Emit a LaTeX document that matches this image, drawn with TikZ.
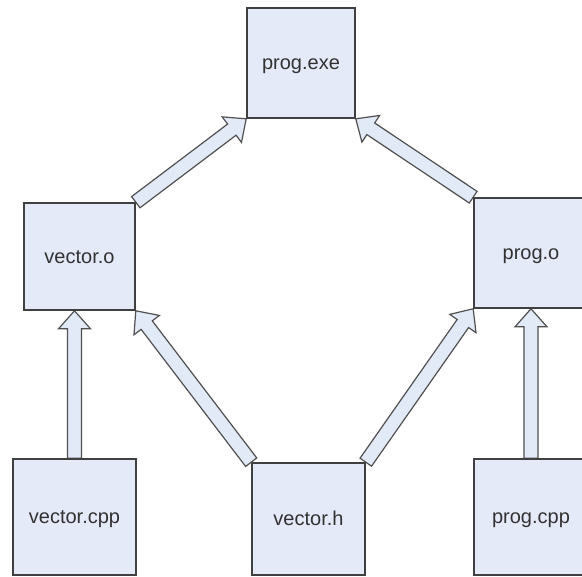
\documentclass[tikz,border=0pt]{standalone}
\usepackage{fontspec}
\setmainfont{Liberation Sans}
\usetikzlibrary{calc,backgrounds}
\definecolor{boxfill}{RGB}{229,234,248}
\definecolor{boxline}{RGB}{64,64,64}
\definecolor{arrowfill}{RGB}{226,234,248}
\definecolor{arrowline}{RGB}{80,80,80}
\definecolor{filetext}{RGB}{50,50,50}
\tikzset{
    file box/.style={rectangle, draw=boxline, line width=1.6pt, fill=boxfill, text=filetext, font=\fontsize{20}{24}\selectfont, inner sep=0pt, text height=14pt, text depth=0pt},
    block arrow/.style={draw=arrowline, line width=1.2pt, fill=arrowfill, line join=miter}
}
% hollow block arrow from #1 to #2
\newcommand{\hollowarrow}[2]{%
  \coordinate (headbase) at ($(#2)!18pt!(#1)$);
  \draw[block arrow] ($(#1)!7pt!90:(#2)$) -- ($(headbase)!7pt!-90:(#1)$) -- ($(headbase)!16pt!-90:(#1)$)
    -- (#2) -- ($(headbase)!16pt!90:(#1)$) -- ($(headbase)!7pt!90:(#1)$) -- ($(#1)!7pt!-90:(#2)$) -- cycle;
}

\begin{document}
\begin{tikzpicture}[x=1pt,y=-1pt]
	\useasboundingbox (0,0) rectangle (582,577);
	\begin{scope}[every node/.style={file box}]
		\node[minimum width=108pt, minimum height=110pt] (exe)  at (301,63)    {prog.exe};
		\node[minimum width=111pt, minimum height=107pt] (vo)   at (79.5,256.5) {vector.o};
		\node[minimum width=114pt, minimum height=110pt] (po)   at (531,253)   {prog.o};
		\node[minimum width=123pt, minimum height=116pt] (vcpp) at (74.5,517)  {vector.cpp};
		\node[minimum width=113pt, minimum height=112pt] (vh)   at (308.5,519) {vector.h};
		\node[minimum width=114pt, minimum height=116pt] (pcpp) at (531,517)   {prog.cpp};
	\end{scope}
	\begin{pgfonlayer}{background}
		\hollowarrow{vo.north east}{exe.south west}
		\hollowarrow{po.north west}{exe.south east}
		\hollowarrow{vcpp.north}{vcpp.north |- vo.south}
		\hollowarrow{pcpp.north}{pcpp.north |- po.south}
		\hollowarrow{vh.north west}{vo.south east}
		\hollowarrow{vh.north east}{po.south west}
	\end{pgfonlayer}
\end{tikzpicture}
\end{document}
